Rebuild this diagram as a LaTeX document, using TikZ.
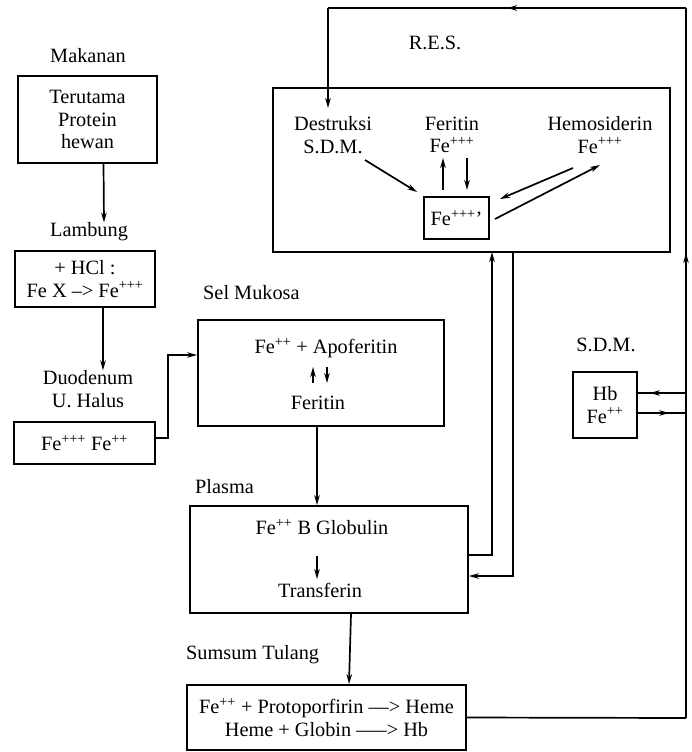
\documentclass[tikz,border=0pt]{standalone}
\usepackage{fontspec}
\setmainfont{Liberation Serif}
\usetikzlibrary{arrows.meta,decorations.markings}
\newcommand\dfont{\fontsize{20.3}{22.5}\selectfont}
\newcommand\sps[1]{\textsuperscript{#1}}
\tikzset{
  box/.style={draw, line width=1.8pt, inner sep=0pt, align=center, font=\dfont},
  lbl/.style={align=center, font=\dfont, inner sep=0pt},
  ln/.style={line width=1.7pt},
  arr/.style={line width=1.7pt, -{Stealth[length=10pt,width=5.5pt]}},
  midarr/.style={postaction={decorate}, decoration={markings, mark=at position #1 with {\arrow{Stealth[length=10pt,width=5.5pt]}}}}
}
\begin{document}
\begin{tikzpicture}[x=1pt,y=-1pt]
\useasboundingbox (0,0) rectangle (691,752);
% left column
\node[lbl] (makl) at (88,56) {Makanan};
\node[box, minimum width=139pt, minimum height=87pt] (mak) at (87.5,119.5) {Terutama\\Protein\\hewan};
\node[lbl] (laml) at (89,232) {Lambung};
\node[box, minimum width=140pt, minimum height=56pt] (lam) at (85,279) {+ HCl :\\Fe X –> Fe\sps{+++}};
\node[lbl] (duol) at (88,389) {Duodenum\\U. Halus};
\node[box, minimum width=141pt, minimum height=42pt] (duo) at (84.5,443) {Fe\sps{+++} Fe\sps{++}};
% middle column
\node[lbl, anchor=west] (mukl) at (203,293) {Sel Mukosa};
\node[box, minimum width=246pt, minimum height=106pt] (muk) at (321,373) {};
\node[lbl] (muk1) at (326,348) {Fe\sps{++} + Apoferitin};
\node[lbl] (muk2) at (318,403) {Feritin};
\node[lbl, anchor=west] (plal) at (195,487) {Plasma};
\node[box, minimum width=278pt, minimum height=107pt] (pla) at (329,559.5) {};
\node[lbl] (pla1) at (322,527) {Fe\sps{++} B Globulin};
\node[lbl] (pla2) at (320,590) {Transferin};
\node[lbl, anchor=west] (suml) at (186,655) {Sumsum Tulang};
\node[box, minimum width=279pt, minimum height=65pt] (sum) at (326.5,717.5) {Fe\sps{++} + Protoporfirin —> Heme\\Heme + Globin —–> Hb};
% R.E.S.
\node[lbl] (resl) at (435,43) {R.E.S.};
\node[box, minimum width=397pt, minimum height=164pt] (res) at (471.5,170) {};
\node[lbl] (des) at (333,135) {Destruksi\\S.D.M.};
\node[lbl] (fer) at (452,135) {Feritin\\Fe\sps{+++}};
\node[lbl] (hem) at (600,135) {Hemosiderin\\Fe\sps{+++}};
\node[box, minimum width=65pt, minimum height=42pt] (fe3) at (456.5,218) {Fe\sps{+++}'};
% S.D.M.
\node[lbl] (sdml) at (606,345) {S.D.M.};
\node[box, minimum width=64pt, minimum height=66pt] (hb) at (605,405) {Hb\\Fe\sps{++}};
% coordinates
\coordinate (c1) at (686,718);
\coordinate (c2) at (686,8);
\coordinate (c3) at (328,8);
\coordinate (c4) at (328,108);
\coordinate (h1) at (686,393);
\coordinate (h2) at (686,413);
\coordinate (r1) at (492,252);
\coordinate (r2) at (513,252);
\coordinate (d1) at (365,160);
\coordinate (d2) at (417,192);
\coordinate (fu1) at (443,190);
\coordinate (fu2) at (443,158);
\coordinate (fd1) at (467,158);
\coordinate (fd2) at (467,190);
\coordinate (ha1) at (573,168);
\coordinate (ha2) at (500,199);
\coordinate (hb1) at (495,219);
\coordinate (hb2) at (600,165);
\coordinate (m1) at (313,383);
\coordinate (m2) at (313,367);
\coordinate (m3) at (327,367);
\coordinate (m4) at (327,383);
\coordinate (p1) at (317,556);
\coordinate (p2) at (317,579);
% connectors left
\draw[arr] ([xshift=16pt]mak.south) -- ([xshift=15pt]laml.north);
\draw[arr] ([xshift=18pt]lam.south) -- ([xshift=15pt]duol.north);
\draw[arr] ([yshift=5pt]duo.east) -- ++(12,0) |- ([yshift=18pt]muk.west);
% middle
\draw[arr] ([xshift=-4pt]muk.south) -- ([xshift=-12pt]pla.north);
\draw[arr] ([xshift=22pt]pla.south) -- ([xshift=22.5pt]sum.north);
\draw[arr] (m1) -- (m2);
\draw[arr] (m3) -- (m4);
\draw[arr] (p1) -- (p2);
% plasma <-> RES
\draw[arr] ([yshift=4.5pt]pla.east) -| (r1);
\draw[arr] (r2) |- ([yshift=-16.5pt]pla.east);
% big loop
\draw[ln] (sum.east) -- (c1);
\draw[ln, midarr=0.655] (c1) -- (c2);
\draw[ln, midarr=0.5] (c2) -- (c3);
\draw[arr] (c3) -- (c4);
% Hb connections
\draw[ln, midarr=0.75] (h1) -- ([yshift=12pt]hb.east);
\draw[ln, midarr=0.65] ([yshift=-8pt]hb.east) -- (h2);
% RES internal
\draw[arr] (d1) -- (d2);
\draw[arr] (fu1) -- (fu2);
\draw[arr] (fd1) -- (fd2);
\draw[arr] (ha1) -- (ha2);
\draw[arr] (hb1) -- (hb2);
\end{tikzpicture}
\end{document}
